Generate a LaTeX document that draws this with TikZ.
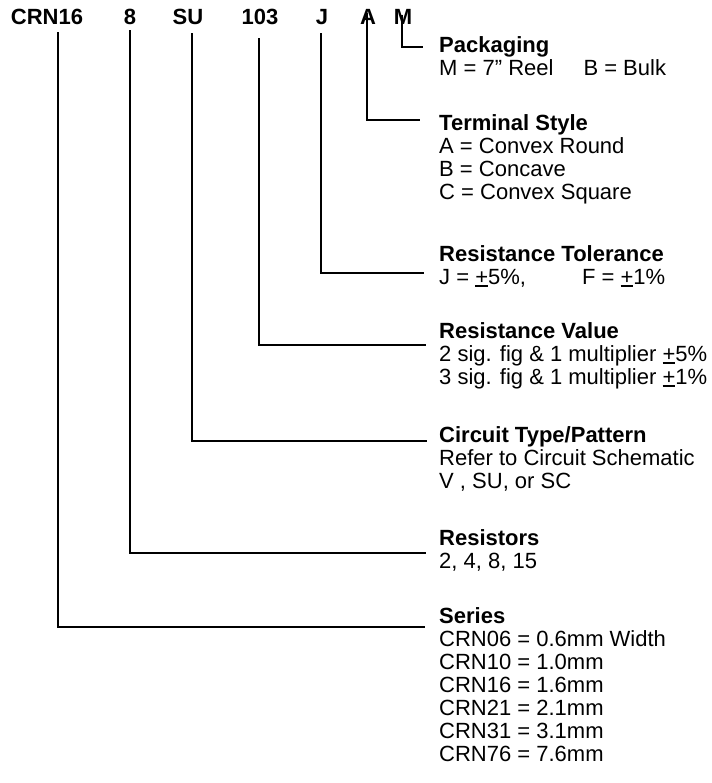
\documentclass[tikz,border=0pt]{standalone}
\usepackage{fontspec}
\setmainfont{Liberation Sans}
\newsavebox{\plusbox}
\newcommand{\pmline}{\sbox{\plusbox}{+}\rlap{\rule[-2.4pt]{\wd\plusbox}{1.3pt}}\usebox{\plusbox}}

\begin{document}
\begin{tikzpicture}[x = 1pt, y = -1pt,
	code/.style = {font = \fontsize{22}{23}\selectfont\bfseries, inner sep = 0pt, anchor = base},
	desc/.style = {font = \fontsize{22}{23}\selectfont, align = left, inner sep = 0pt, anchor = north west},
	lead/.style = {line width = 1.3pt}]
	\useasboundingbox (0,0) rectangle (711,783);
	% part number
	\node[code] (crn) at (47,25) {CRN16};
	\node[code] (res) at (130,25) {8};
	\node[code] (ckt) at (188,25) {SU};
	\node[code] (val) at (260,25) {103};
	\node[code] (tol) at (322,25) {J};
	\node[code] (term) at (368,25) {A};
	\node[code] (pack) at (403,25) {M};
	% descriptions
	\node[desc] (packaging) at (439,36) {\textbf{Packaging}\\M = 7” Reel\hspace{30pt}B = Bulk};
	\node[desc] (terminal) at (439,114) {\textbf{Terminal Style}\\A = Convex Round\\B = Concave\\C = Convex Square};
	\node[desc] (tolerance) at (439,245) {\textbf{Resistance Tolerance}\\J = \pmline 5\%,\hspace{56pt}F = \pmline 1\%};
	\node[desc] (value) at (439,322) {\textbf{Resistance Value}\\2 sig. fig \& 1 multiplier \pmline 5\%\\3 sig. fig \& 1 multiplier \pmline 1\%};
	\node[desc] (circuit) at (439,426) {\textbf{Circuit Type/Pattern}\\Refer to Circuit Schematic\\V , SU, or SC};
	\node[desc] (resistors) at (439,529) {\textbf{Resistors}\\2, 4, 8, 15};
	\node[desc] (series) at (439,607) {\textbf{Series}\\CRN06 = 0.6mm Width\\CRN10 = 1.0mm\\CRN16 = 1.6mm\\CRN21 = 2.1mm\\CRN31 = 3.1mm\\CRN76 = 7.6mm};
	% leader ends
	\coordinate (packend) at (423,47);
	\coordinate (termend) at (420,120);
	\coordinate (tolend) at (424,273);
	\coordinate (valend) at (426,345);
	\coordinate (cktend) at (427,441);
	\coordinate (resend) at (426,553);
	\coordinate (crnend) at (425,627);
	% leaders
	\draw[lead] ([xshift = -1pt, yshift = -5pt]pack.north) |- (packend);
	\draw[lead] ([xshift = -1pt, yshift = -3pt]term.north) |- (termend);
	\draw[lead] ([xshift = -1pt, yshift = -8pt]tol.south) |- (tolend);
	\draw[lead] ([xshift = -1pt, yshift = -13pt]val.south) |- (valend);
	\draw[lead] ([xshift = 4pt, yshift = -8pt]ckt.south) |- (cktend);
	\draw[lead] ([yshift = -5pt]res.south) |- (resend);
	\draw[lead] ([xshift = 11pt, yshift = -7pt]crn.south) |- (crnend);
\end{tikzpicture}
\end{document}
